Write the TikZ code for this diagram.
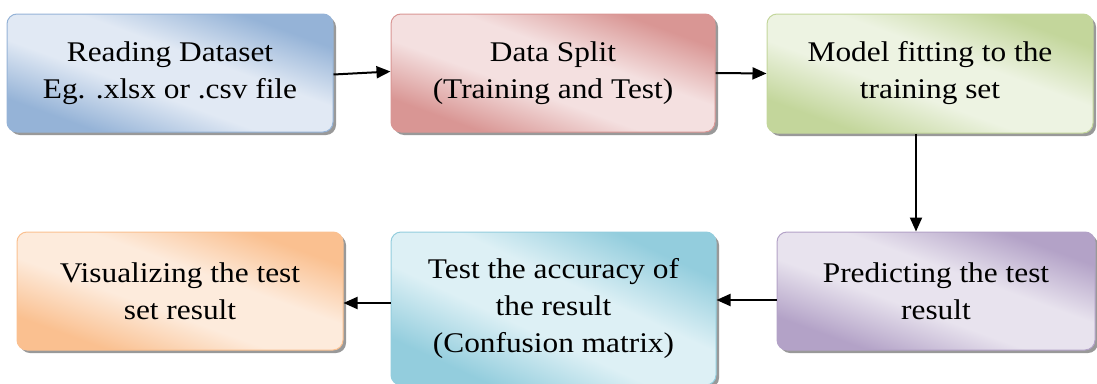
\documentclass[tikz,border=0pt]{standalone}
\usepackage{fontspec}
\setmainfont{Liberation Serif}[FakeStretch=1.1]
\usetikzlibrary{arrows.meta,shadows}

% Word-style pastel palette: edge tone and centre tone for each stage
\definecolor{blueD}{HTML}{95B3D7}\definecolor{blueL}{HTML}{E1E9F4}
\definecolor{redD}{HTML}{D99694}\definecolor{redL}{HTML}{F4E0E0}
\definecolor{greenD}{HTML}{C3D69B}\definecolor{greenL}{HTML}{EDF3E2}
\definecolor{purpD}{HTML}{B3A2C7}\definecolor{purpL}{HTML}{E8E3EE}
\definecolor{aquaD}{HTML}{93CDDD}\definecolor{aquaL}{HTML}{DDF0F5}
\definecolor{orangeD}{HTML}{FAC090}\definecolor{orangeL}{HTML}{FDEBDC}
\colorlet{stD}{blueD}\colorlet{stL}{blueL}

% diagonal fill: dark corners, a broad light band through the middle
\pgfdeclareverticalshading[stD,stL]{stagefill}{100bp}{%
  color(0bp)=(stD); color(27bp)=(stD); color(43bp)=(stL);
  color(57bp)=(stL); color(73bp)=(stD); color(100bp)=(stD)}

\tikzset{
  stage/.style 2 args={
    /utils/exec={\colorlet{stD}{#1}\colorlet{stL}{#2}},
    draw=#1, line width=1pt, rounded corners=10pt,
    shading=stagefill, shading angle=-20,
    drop shadow={shadow xshift=3pt, shadow yshift=-3pt, fill=black, opacity=0.4},
    align=center, inner sep=0pt, text=black,
    font=\fontsize{28.5}{37}\selectfont
  },
  flow/.style={line width=2pt, -{Triangle[length=14pt,width=12pt]}}
}

\begin{document}
\begin{tikzpicture}[x=1pt,y=-1pt]
\useasboundingbox (0,0) rectangle (1097,383);

\node[stage={blueD}{blueL}, minimum width=326pt, minimum height=118pt] (read) at (170,73)
  {Reading Dataset\\Eg. .xlsx or .csv file};
\node[stage={redD}{redL}, minimum width=324pt, minimum height=118pt] (split) at (553,73)
  {Data Split\\(Training and Test)};
\node[stage={greenD}{greenL}, minimum width=326pt, minimum height=119pt] (fit) at (930,73.5)
  {Model fitting to the\\training set};
\node[stage={purpD}{purpL}, minimum width=318pt, minimum height=118pt] (pred) at (936,291)
  {Predicting the test\\result};
\node[stage={aquaD}{aquaL}, minimum width=325pt, minimum height=153pt, shading angle=-25] (acc) at (553.5,308.5)
  {Test the accuracy of\\the result\\(Confusion matrix)};
\node[stage={orangeD}{orangeL}, minimum width=326pt, minimum height=118pt] (vis) at (180,291)
  {Visualizing the test\\set result};

\draw[flow] ([yshift=-1.5pt]read.east) -- ([yshift=1.5pt]split.west);
\draw[flow] (split.east) -- (fit.west);
\draw[flow] ([xshift=-14pt]fit.south) -- ([xshift=-14pt]fit.south |- pred.north);
\draw[flow] ([yshift=-9pt]pred.west) -- ([yshift=-9pt]pred.west -| acc.east);
\draw[flow] ([yshift=5.5pt]acc.west) -- ([yshift=5.5pt]acc.west -| vis.east);
\end{tikzpicture}
\end{document}
